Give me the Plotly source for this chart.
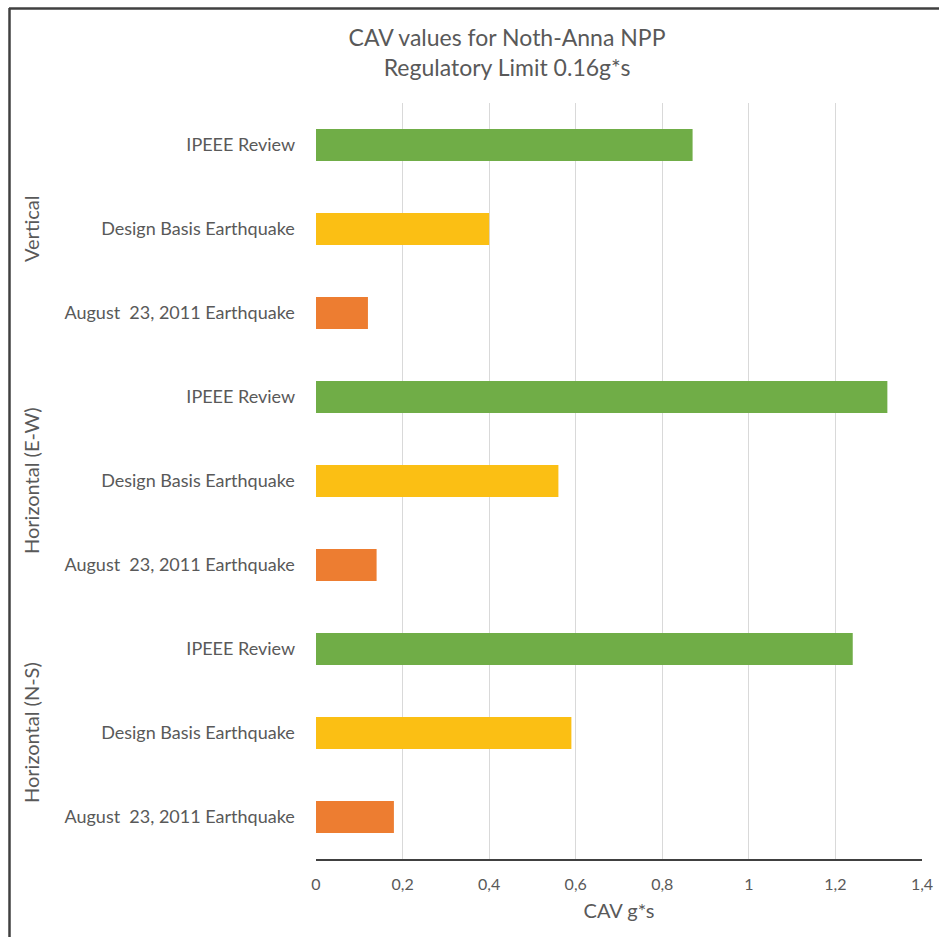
import plotly.graph_objects as go

# ---- data ----
groups = ["Horizontal (N-S)", "Horizontal (E-W)", "Vertical"]
events = ["August  23, 2011 Earthquake", "Design Basis Earthquake", "IPEEE Review"]
values_ns = [0.18, 0.59, 1.24]
values_ew = [0.14, 0.56, 1.32]
values_v = [0.12, 0.40, 0.87]
event_colors = ["#ED7D31", "#FBBF14", "#70AD47"]
x_tickvals = [0, 0.2, 0.4, 0.6, 0.8, 1.0, 1.2, 1.4]
x_ticktext = ["0", "0,2", "0,4", "0,6", "0,8", "1", "1,2", "1,4"]

group_values = [values_ns, values_ew, values_v]
ycats, xs, cols, labels = [], [], [], []
for g, vals in zip(groups, group_values):
    for e, v, c in zip(events, vals, event_colors):
        ycats.append(g + " | " + e)
        xs.append(v)
        cols.append(c)
        labels.append(e + "  ")

W, H = 939, 937
L, R, T, B = 316, 922, 103, 859
FONT = "Lato, Open Sans, sans-serif"
TXT = "#595959"

fig = go.Figure()
fig.add_trace(go.Bar(
    x=xs, y=ycats, orientation="h",
    marker=dict(color=cols, line=dict(width=0)),
    width=0.38, hoverinfo="x+y",
))

def px2paper_x(px):
    return (px - L) / (R - L)

def py2paper_y(py):
    return (B - py) / (B - T)

annotations = []
for gi, g in enumerate(groups):
    annotations.append(dict(
        x=px2paper_x(31), xref="paper", y=g + " | " + events[1], yref="y",
        text=g, showarrow=False, textangle=-90,
        font=dict(family=FONT, size=20, color=TXT),
        xanchor="center", yanchor="middle",
    ))

shapes = [
    dict(type="line", xref="paper", yref="paper",
         x0=px2paper_x(9.5), x1=px2paper_x(9.5), y0=py2paper_y(8), y1=py2paper_y(945),
         line=dict(color="#404040", width=2.5)),
    dict(type="line", xref="paper", yref="paper",
         x0=px2paper_x(9), x1=px2paper_x(945), y0=py2paper_y(8.5), y1=py2paper_y(8.5),
         line=dict(color="#404040", width=2.5)),
]

fig.update_layout(
    width=W, height=H,
    margin=dict(l=L, r=W - R, t=T, b=H - B, pad=0, autoexpand=False),
    paper_bgcolor="white", plot_bgcolor="white",
    showlegend=False,
    font=dict(family=FONT, color=TXT),
    title=dict(
        text="CAV values for Noth-Anna NPP<br>Regulatory Limit 0.16g*s",
        x=507 / W, xanchor="center", y=1 - 46 / H, yanchor="middle",
        font=dict(family=FONT, size=23, color=TXT),
    ),
    xaxis=dict(
        range=[0, 1.4], tickvals=x_tickvals, ticktext=x_ticktext,
        showgrid=True, gridcolor="#D9D9D9", gridwidth=1,
        zeroline=False, showline=True, linecolor="#404040", linewidth=1.5,
        tickfont=dict(family=FONT, size=16, color=TXT),
        ticklabelstandoff=10,
        title=dict(text="CAV g*s", font=dict(family=FONT, size=20, color=TXT), standoff=12),
        automargin=False,
        fixedrange=True,
    ),
    yaxis=dict(
        categoryorder="array", categoryarray=ycats,
        tickvals=ycats, ticktext=labels,
        range=[-0.5, len(ycats) - 0.5],
        showgrid=False, zeroline=False, showline=False,
        tickfont=dict(family=FONT, size=18, color=TXT),
        ticklabelstandoff=11,
        automargin=False,
        fixedrange=True,
    ),
    annotations=annotations,
    shapes=shapes,
)

fig.write_html(
    "out.html",
    config={"displayModeBar": False},
    post_script="document.body.style.margin='0';document.body.style.overflow='hidden';",
)
